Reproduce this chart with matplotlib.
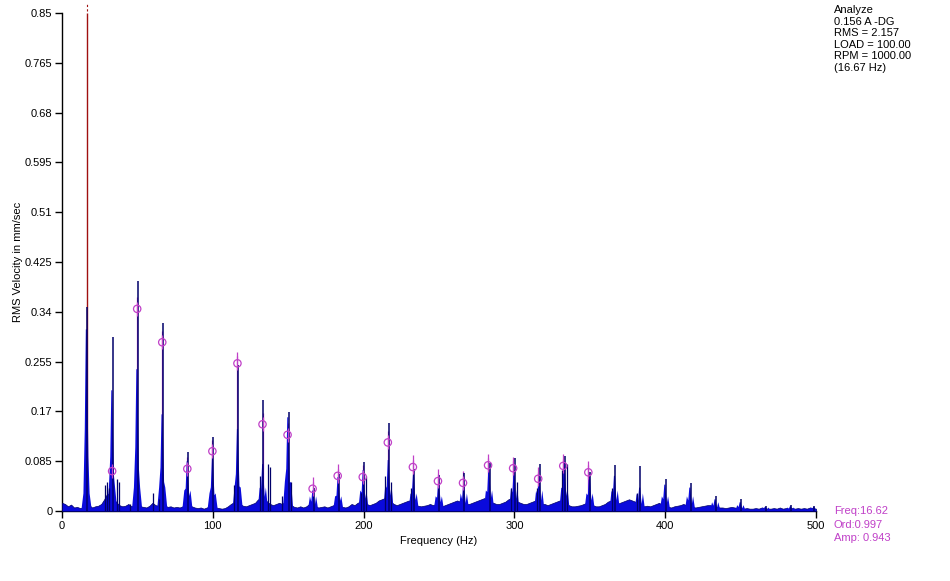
import numpy as np
import matplotlib
matplotlib.use("Agg")
import matplotlib.pyplot as plt

plt.rcParams['font.family'] = ['Liberation Sans', 'DejaVu Sans']

# noise floor, one value every 2 Hz from 0 to 500 Hz
floor_step = 2.0
floor_amp = [
    0.014, 0.012, 0.008, 0.011, 0.006, 0.007, 0.005, 0.006, 0.009, 0.010,
    0.006, 0.008, 0.009, 0.012, 0.020, 0.030, 0.025, 0.022, 0.015, 0.010,
    0.008, 0.009, 0.012, 0.008, 0.010, 0.012, 0.008, 0.007, 0.006, 0.009,
    0.014, 0.010, 0.009, 0.012, 0.010, 0.007, 0.008, 0.006, 0.007, 0.006,
    0.008, 0.012, 0.010, 0.008, 0.006, 0.005, 0.006, 0.004, 0.006, 0.008,
    0.010, 0.006, 0.005, 0.004, 0.005, 0.008, 0.012, 0.015, 0.018, 0.012,
    0.009, 0.008, 0.010, 0.012, 0.014, 0.020, 0.018, 0.022, 0.016, 0.012,
    0.010, 0.012, 0.014, 0.012, 0.016, 0.014, 0.010, 0.007, 0.006, 0.008,
    0.006, 0.008, 0.012, 0.010, 0.008, 0.006, 0.007, 0.008, 0.006, 0.008,
    0.010, 0.009, 0.008, 0.007, 0.006, 0.008, 0.012, 0.010, 0.014, 0.016,
    0.014, 0.012, 0.010, 0.012, 0.014, 0.018, 0.020, 0.022, 0.020, 0.016,
    0.012, 0.010, 0.012, 0.014, 0.016, 0.018, 0.014, 0.010, 0.009, 0.008,
    0.009, 0.010, 0.012, 0.010, 0.012, 0.010, 0.008, 0.010, 0.012, 0.014,
    0.016, 0.018, 0.016, 0.014, 0.012, 0.012, 0.014, 0.016, 0.018, 0.020,
    0.022, 0.018, 0.016, 0.014, 0.012, 0.012, 0.014, 0.016, 0.020, 0.022,
    0.020, 0.016, 0.014, 0.012, 0.012, 0.014, 0.016, 0.018, 0.016, 0.012,
    0.012, 0.010, 0.012, 0.014, 0.016, 0.018, 0.016, 0.012, 0.010, 0.008,
    0.008, 0.009, 0.010, 0.012, 0.014, 0.012, 0.010, 0.008, 0.008, 0.010,
    0.012, 0.016, 0.018, 0.014, 0.012, 0.014, 0.016, 0.018, 0.020, 0.018,
    0.016, 0.014, 0.010, 0.008, 0.009, 0.008, 0.010, 0.012, 0.014, 0.010,
    0.008, 0.007, 0.006, 0.008, 0.009, 0.010, 0.012, 0.010, 0.008, 0.007,
    0.006, 0.007, 0.008, 0.009, 0.010, 0.010, 0.008, 0.007, 0.006, 0.006,
    0.005, 0.006, 0.007, 0.006, 0.005, 0.005, 0.004, 0.005, 0.004, 0.004,
    0.005, 0.004, 0.006, 0.005, 0.004, 0.004, 0.005, 0.004, 0.006, 0.004,
    0.005, 0.004, 0.005, 0.004, 0.005, 0.004, 0.005, 0.004, 0.006, 0.005,
    0.004,
]

# running-speed harmonics: frequency, spike tip, body height, skirt height
peak_freq = [16.6, 33.5, 50.1, 66.8, 83.5, 100.2, 116.8, 133.5, 150.2, 166.8,
             183.5, 200.2, 216.8, 233.5, 250.2, 266.8, 283.5, 300.2, 316.8, 333.5,
             350.2, 366.8, 383.5, 400.2, 416.8, 433.5, 450.2, 466.8, 483.5, 499.0]
peak_tip = [0.349, 0.297, 0.392, 0.321, 0.101, 0.127, 0.250, 0.189, 0.169, 0.040,
            0.063, 0.084, 0.151, 0.072, 0.061, 0.065, 0.082, 0.091, 0.080, 0.094,
            0.067, 0.078, 0.076, 0.055, 0.048, 0.026, 0.021, 0.009, 0.011, 0.009]
peak_body = [0.310, 0.206, 0.242, 0.165, 0.085, 0.090, 0.140, 0.080, 0.160, 0.035,
             0.058, 0.070, 0.087, 0.062, 0.050, 0.045, 0.072, 0.070, 0.060, 0.085,
             0.060, 0.060, 0.040, 0.045, 0.040, 0.020, 0.015, 0.007, 0.008, 0.007]
peak_skirt = [0.030, 0.040, 0.040, 0.040, 0.035, 0.030, 0.040, 0.040, 0.050, 0.025,
              0.025, 0.035, 0.045, 0.030, 0.025, 0.030, 0.035, 0.040, 0.035, 0.040,
              0.030, 0.035, 0.030, 0.025, 0.025, 0.015, 0.010, 0.006, 0.006, 0.006]

# smaller side lines
side_freq = [28.5, 30.0, 31.0, 36.5, 37.5, 45.0, 60.5, 64.5, 114.0, 131.5,
             136.5, 138.0, 146.0, 152.0, 198.0, 201.5, 214.0, 218.5, 231.5, 298.0,
             302.0, 315.0, 331.5, 335.0, 365.0, 381.0]
side_amp = [0.045, 0.050, 0.040, 0.055, 0.050, 0.012, 0.030, 0.020, 0.045, 0.060,
            0.080, 0.075, 0.025, 0.050, 0.030, 0.060, 0.060, 0.050, 0.040, 0.040,
            0.050, 0.040, 0.070, 0.080, 0.040, 0.030]

# harmonic markers (order cursor)
cursor_freq = 16.62
marker_order = list(range(2, 22))
marker_amp = [0.068, 0.345, 0.288, 0.072, 0.102, 0.252, 0.148, 0.130, 0.038, 0.060,
              0.058, 0.117, 0.075, 0.051, 0.048, 0.078, 0.073, 0.055, 0.077, 0.066]

yticks = [0, 0.085, 0.17, 0.255, 0.34, 0.425, 0.51, 0.595, 0.68, 0.765, 0.85]
ytick_labels = ['0', '0.085', '0.17', '0.255', '0.34', '0.425', '0.51', '0.595',
                '0.68', '0.765', '0.85']
xticks = [0, 100, 200, 300, 400, 500]

info_lines = ['Analyze', '0.156 A -DG', 'RMS = 2.157', 'LOAD = 100.00',
              'RPM = 1000.00', '(16.67 Hz)']
cursor_lines = ['Freq:16.62', 'Ord:0.997', 'Amp: 0.943']

blue = '#0a0adc'
navy = '#00006a'
magenta = '#c040c8'

fig = plt.figure(figsize=(9.5, 5.81), dpi=100)
ax = fig.add_axes([62 / 950, 70 / 581, 754 / 950, 498 / 581])

# red cursor line under the spectrum
ax.vlines(cursor_freq, 0, 0.85, color='#a01010', lw=1.0, zorder=1)
ax.plot([cursor_freq, cursor_freq], [0.853, 0.866], color='#a01010', lw=0.8,
        ls=(0, (2, 2)), clip_on=False, zorder=1)

# magenta harmonic cursor lines, mostly hidden by the spectrum
mx = [k * cursor_freq for k in marker_order]
for x, a in zip(mx, marker_amp):
    ax.vlines(x, 0, a + 0.02, color=magenta, lw=0.9, zorder=2)

# noise floor
ff = np.arange(len(floor_amp)) * floor_step
ax.fill_between(ff, 0, floor_amp, color=blue, lw=0.5, edgecolor=navy, zorder=3)

# peaks
for f, tip, body, skirt in zip(peak_freq, peak_tip, peak_body, peak_skirt):
    xs = [f - 3.8, f - 2.4, f - 1.5, f - 0.8, f - 0.1, f + 0.4, f + 0.9,
          f + 1.7, f + 3.2]
    ys = [0, skirt, body * 0.45, body, body, body * 0.6, body * 0.3,
          skirt, 0]
    ax.fill(xs, ys, color=blue, lw=0, zorder=3)
    ax.vlines(f, 0, tip, color=navy, lw=1.1, zorder=4)

ax.vlines(side_freq, 0, side_amp, color=navy, lw=0.9, zorder=3)

# short visible parts of the cursor lines at the markers
for x, a in zip(mx, marker_amp):
    ax.vlines(x, max(a - 0.012, 0), a + 0.012, color=magenta, lw=0.9, zorder=5)
ax.scatter(mx, marker_amp, s=28, facecolors='none', edgecolors=magenta,
           linewidths=0.9, zorder=6)

ax.set_xlim(0, 500)
ax.set_ylim(0, 0.85)
ax.spines['top'].set_visible(False)
ax.spines['right'].set_visible(False)
for s in ['left', 'bottom']:
    ax.spines[s].set_linewidth(1.0)
    ax.spines[s].set_color('black')
ax.set_yticks(yticks)
ax.set_yticklabels(ytick_labels)
ax.set_xticks(xticks)
ax.tick_params(axis='both', direction='out', length=5, width=1, labelsize=8,
               colors='black', pad=2)
ax.set_xlabel('Frequency (Hz)', fontsize=8, labelpad=4)
ax.set_ylabel('RMS Velocity in mm/sec', fontsize=8, labelpad=1)

fig.text(834 / 950, 1 - 5 / 581, '\n'.join(info_lines), fontsize=8,
         va='top', ha='left', linespacing=1.2)
fig.text(834 / 950, 1 - 506 / 581, '\n'.join(cursor_lines), fontsize=8,
         va='top', ha='left', linespacing=1.45, color=magenta)

fig.savefig('out.png', dpi=100)
